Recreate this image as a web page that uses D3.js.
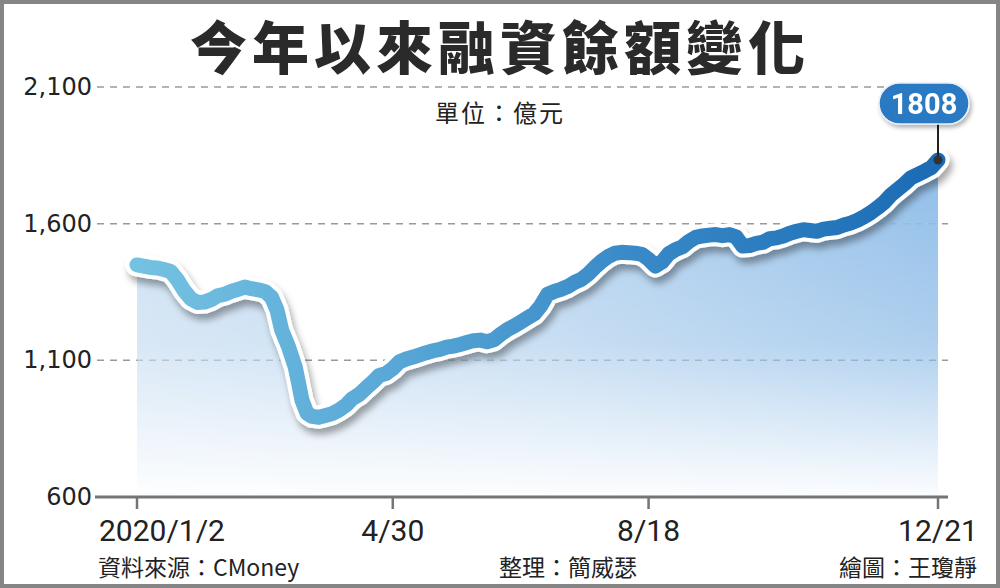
<!DOCTYPE html>
<html><head><meta charset="utf-8">
<script src="https://cdn.jsdelivr.net/npm/d3@7"></script>
<style>
html,body{margin:0;padding:0;background:#fff;}
svg{display:block;}
</style></head>
<body>
<svg id="chart" width="1000" height="588"></svg>
<script>
// ---- data (trading-day index since 2020/1/2, margin balance in 億元) ----
const tradingDay = [0,2,4,6,8,10,12,14,16,18,20,22,24,26,28,30,32,34,36,38,40,41.6,43,45,47,48,49,50.5,52,54,56,58,60,62,64,66,68,70,72,74,76,78,80,82,84,86,88,90,92,94,96,98,100,102,104,106,108,110,112,114,116,118,120,122,124,126,128,130,132,134,136,138,140,142,144,146,148,150,152,154,156,158,160,162,164,166,168,170,172,174,176,178,180,182,184,186,188,190,192,194,196,198,200,202,204,206,208,210,212,214,216,218,220,222,224,226,228,230,232,234,236,238];
const balance = [1449,1445,1440,1438,1432,1425,1395,1355,1325,1312,1313,1322,1336,1342,1352,1360,1368,1362,1358,1352,1330,1284,1210,1150,1076,1017,955,907,895,892,898,905,918,935,960,975,998,1020,1045,1052,1070,1095,1105,1112,1120,1128,1135,1140,1148,1152,1158,1165,1172,1174,1168,1175,1195,1212,1225,1240,1255,1270,1300,1342,1352,1360,1370,1385,1396,1415,1440,1462,1480,1492,1495,1494,1492,1488,1470,1445,1460,1490,1505,1515,1535,1550,1555,1558,1560,1556,1560,1552,1518,1520,1528,1532,1545,1548,1555,1565,1572,1578,1575,1572,1580,1583,1586,1595,1602,1612,1625,1640,1658,1678,1705,1725,1745,1768,1780,1792,1805,1833];
const yTicks = [600,1100,1600,2100];
const xTickDays = [0,76,152,238];
const xTickLabels = ["2020/1/2","4/30","8/18","12/21"];
const latestLabel = "1808";
const titleText = "今年以來融資餘額變化";
const unitText = "單位：億元";
const sourceText = "資料來源：CMoney";
const editorText = "整理：簡威瑟";
const designerText = "繪圖：王瓊靜";

const data = tradingDay.map((d,i)=>({d, v: balance[i]}));

const svg = d3.select("#chart");
const W = 1000, H = 588;
const x = d3.scaleLinear().domain([0,238]).range([137,938]);
const y = d3.scaleLinear().domain([600,2100]).range([497,87]);

const defs = svg.append("defs");
const lg = defs.append("linearGradient").attr("id","lineGrad")
  .attr("gradientUnits","userSpaceOnUse").attr("x1",x(0)).attr("x2",x(238)).attr("y1",0).attr("y2",0);
[[0,"#74c2e1"],[0.3,"#5aa9d7"],[0.6,"#3a8bc8"],[1,"#1b6bb5"]].forEach(s=>lg.append("stop").attr("offset",s[0]).attr("stop-color",s[1]));

const ag = defs.append("linearGradient").attr("id","areaGradH")
  .attr("gradientUnits","userSpaceOnUse").attr("x1",x(0)).attr("x2",x(238)).attr("y1",0).attr("y2",0);
[[0,"#c9def2"],[0.5,"#b4d2ee"],[1,"#8fbde8"]].forEach(s=>ag.append("stop").attr("offset",s[0]).attr("stop-color",s[1]));

const mg = defs.append("linearGradient").attr("id","maskGrad")
  .attr("gradientUnits","userSpaceOnUse").attr("x1",0).attr("x2",0).attr("y1",y(1850)).attr("y2",y(600));
[[0,"#fff",1],[0.55,"#fff",0.72],[1,"#fff",0.03]].forEach(s=>mg.append("stop").attr("offset",s[0]).attr("stop-color",s[1]).attr("stop-opacity",s[2]));
defs.append("mask").attr("id","areaMask")
  .append("rect").attr("x",0).attr("y",0).attr("width",W).attr("height",H).attr("fill","url(#maskGrad)");

const f = defs.append("filter").attr("id","shadow").attr("x","-10%").attr("y","-10%").attr("width","120%").attr("height","130%");
f.append("feDropShadow").attr("dx",3).attr("dy",6).attr("stdDeviation",3.5).attr("flood-color","#000").attr("flood-opacity",0.35);

const f2 = defs.append("filter").attr("id","pillShadow").attr("x","-20%").attr("y","-20%").attr("width","140%").attr("height","160%");
f2.append("feDropShadow").attr("dx",2).attr("dy",3).attr("stdDeviation",2).attr("flood-color","#000").attr("flood-opacity",0.3);

// background + frame
svg.append("rect").attr("x",2).attr("y",2).attr("width",W-4).attr("height",H-4)
  .attr("fill","#fff").attr("stroke","#858585").attr("stroke-width",4);

// title
svg.append("text").attr("x",500).attr("y",69).attr("text-anchor","middle")
  .attr("font-family","'Noto Sans CJK TC','Noto Sans CJK SC',sans-serif").attr("font-weight",900)
  .attr("font-size",57).attr("letter-spacing",5).attr("fill","#2a2a2a").text(titleText);

// unit
svg.append("text").attr("x",500).attr("y",122).attr("text-anchor","middle")
  .attr("font-family","'Noto Sans CJK TC',sans-serif").attr("font-size",24).attr("letter-spacing",2).attr("fill","#222").text(unitText);

// gridlines
svg.append("g").selectAll("line").data(yTicks.filter(t=>t>600)).join("line")
  .attr("x1",97).attr("x2",948).attr("y1",d=>y(d)).attr("y2",d=>y(d))
  .attr("stroke","#9a9a9a").attr("stroke-width",1.5).attr("stroke-dasharray","7,6");

// y labels
svg.append("g").selectAll("text").data(yTicks).join("text")
  .attr("x",92).attr("y",d=>y(d)+8).attr("text-anchor","end")
  .attr("font-family","'DejaVu Sans',sans-serif").attr("font-size",24).attr("fill","#222")
  .text(d=>d3.format(",")(d));

// area
const area = d3.area().x(d=>x(d.d)).y0(y(600)).y1(d=>y(d.v)).curve(d3.curveLinear);
svg.append("path").datum(data).attr("d",area).attr("fill","url(#areaGradH)").attr("mask","url(#areaMask)");

// axis
const axisG = svg.append("g");
axisG.append("line").attr("x1",95).attr("x2",948).attr("y1",y(600)).attr("y2",y(600))
  .attr("stroke","#757575").attr("stroke-width",3);
axisG.selectAll("line.tick").data(xTickDays).join("line").attr("class","tick")
  .attr("x1",d=>x(d)).attr("x2",d=>x(d)).attr("y1",y(600)).attr("y2",y(600)+12)
  .attr("stroke","#757575").attr("stroke-width",2.5);
axisG.selectAll("text").data(xTickDays).join("text")
  .attr("x",(d,i)=> i===0 ? 99 : x(d)).attr("y",541)
  .attr("text-anchor",(d,i)=> i===0 ? "start" : "middle")
  .attr("font-family","Roboto,sans-serif").attr("font-size",30).attr("fill","#222")
  .text((d,i)=>xTickLabels[i]);

// line: shadow + white outline + colored
const line = d3.line().x(d=>x(d.d)).y(d=>y(d.v)).curve(d3.curveLinear);
svg.append("path").datum(data).attr("d",line).attr("fill","none")
  .attr("stroke","#fff").attr("stroke-width",23).attr("stroke-linejoin","round").attr("stroke-linecap","round")
  .attr("filter","url(#shadow)");
svg.append("path").datum(data).attr("d",line).attr("fill","none")
  .attr("stroke","url(#lineGrad)").attr("stroke-width",15).attr("stroke-linejoin","round").attr("stroke-linecap","round");

// callout
const last = data[data.length-1];
const lx = x(last.d), ly = y(last.v);
svg.append("line").attr("x1",lx).attr("x2",lx).attr("y1",ly).attr("y2",120).attr("stroke","#222").attr("stroke-width",2);
svg.append("circle").attr("cx",lx).attr("cy",ly).attr("r",4.5).attr("fill","#333");
const pg = svg.append("g").attr("filter","url(#pillShadow)");
pg.append("rect").attr("x",lx-59).attr("y",83).attr("width",90).attr("height",41).attr("rx",20.5)
  .attr("fill","#2b79c3").attr("stroke","#e8f0f8").attr("stroke-width",1.5);
pg.append("text").attr("x",lx-14).attr("y",114).attr("text-anchor","middle")
  .attr("font-family","Roboto,sans-serif").attr("font-weight",700).attr("font-size",29).attr("fill","#fff")
  .text(latestLabel);

// credits
const cf = "'Noto Sans CJK TC',sans-serif";
svg.append("text").attr("x",98).attr("y",576).attr("font-family",cf).attr("font-size",23).attr("fill","#222").text(sourceText);
svg.append("text").attr("x",499).attr("y",576).attr("font-family",cf).attr("font-size",23).attr("fill","#222").text(editorText);
svg.append("text").attr("x",977).attr("y",576).attr("text-anchor","end").attr("font-family",cf).attr("font-size",23).attr("fill","#222").text(designerText);
</script>
</body></html>
